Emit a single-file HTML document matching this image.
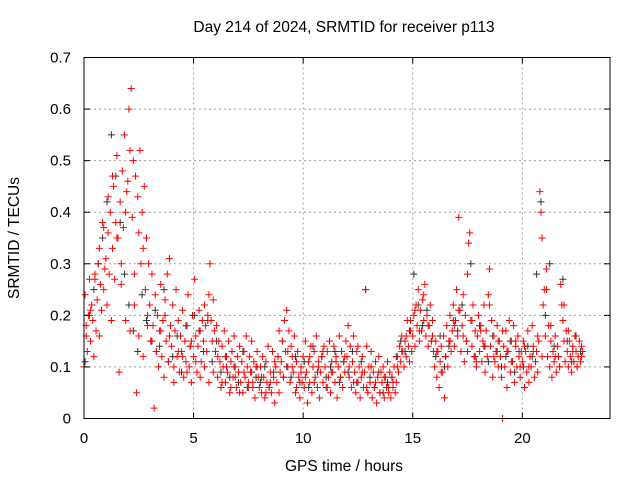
<!DOCTYPE html>
<html><head><meta charset="utf-8"><style>
html,body{margin:0;padding:0;background:#fff}
svg{display:block;font-family:"Liberation Sans",sans-serif}
</style></head><body>
<svg id="chart" width="640" height="480">
<rect width="640" height="480" fill="#fff"/>
<g id="grid"></g>
<g id="black"></g>
<g id="red"></g>
<rect x="84" y="57.5" width="526" height="361" fill="none" stroke="#000" stroke-width="1"/>
<g id="ticks"></g>
<text x="344" y="32" text-anchor="middle" font-size="15.5">Day 214 of 2024, SRMTID for receiver p113</text>
<text x="344" y="471" text-anchor="middle" font-size="15.5">GPS time / hours</text>
<text transform="translate(19,238) rotate(-90)" text-anchor="middle" font-size="15.5">SRMTID / TECUs</text>
</svg>
<script>
const xTicks=[0,5,10,15,20];
const yTicks=[0,0.1,0.2,0.3,0.4,0.5,0.6,0.7];
const yTickLabels=["0","0.1","0.2","0.3","0.4","0.5","0.6","0.7"];
const redStep=0.05;
const redValues=[
.10,.24,.18,.13,.20,.27,.15,.22,.19,.12,.28,.17,.23,.30,.16,.26,.21,.38,.25,.29,
.31,.22,.36,.28,.40,.19,.33,.45,.27,.38,.51,.35,.09,.42,.30,.48,.37,.55,.40,.44,
.46,.60,.52,.64,.39,.50,.28,.47,.05,.43,.36,.52,.30,.40,.33,.45,.25,.35,.20,.30,
.22,.15,.28,.18,.02,.24,.13,.20,.10,.17,.26,.12,.19,.08,.23,.15,.28,.11,.31,.18,
.14,.22,.07,.17,.25,.12,.19,.09,.16,.13,.21,.08,.15,.11,.18,.24,.10,.14,.07,.20,
.12,.27,.16,.09,.14,.21,.17,.11,.19,.15,.22,.18,.13,.20,.24,.30,.19,.15,.23,.17,
.13,.18,.08,.15,.11,.06,.14,.10,.17,.07,.12,.09,.15,.05,.11,.13,.08,.16,.10,.06,
.12,.09,.14,.07,.11,.05,.13,.08,.16,.10,.06,.12,.09,.15,.07,.11,.04,.10,.13,.08,
.06,.10,.05,.12,.08,.04,.11,.07,.14,.06,.09,.05,.13,.08,.03,.10,.07,.12,.05,.09,
.11,.15,.08,.19,.13,.21,.10,.17,.07,.14,.12,.09,.16,.05,.11,.13,.08,.04,.10,.07,
.12,.06,.15,.09,.03,.11,.07,.14,.05,.10,.13,.08,.16,.06,.11,.04,.09,.12,.07,.14,
.10,.06,.13,.08,.15,.05,.11,.09,.14,.07,.12,.04,.10,.16,.08,.13,.06,.11,.09,.15,
.12,.18,.08,.14,.06,.11,.16,.09,.05,.13,.07,.10,.04,.08,.12,.06,.09,.25,.14,.05,
.10,.07,.13,.04,.09,.06,.11,.03,.08,.12,.05,.09,.07,.10,.04,.08,.06,.11,.05,.09,
.04,.08,.06,.10,.05,.07,.12,.09,.14,.11,.16,.13,.10,.15,.12,.19,.14,.11,.17,.13,
.16,.20,.14,.22,.18,.25,.15,.21,.17,.23,.19,.26,.16,.20,.14,.18,.22,.15,.19,.13,
.10,.15,.08,.13,.06,.11,.14,.09,.16,.04,.12,.18,.10,.15,.20,.13,.17,.22,.14,.19,
.25,.16,.39,.21,.13,.18,.24,.11,.20,.15,.28,.34,.36,.19,.14,.22,.12,.17,.10,.16,
.20,.13,.18,.11,.15,.22,.09,.17,.12,.24,.29,.14,.19,.08,.16,.11,.13,.18,.10,.15,
.12,.08,.00,.14,.10,.17,.06,.13,.19,.09,.15,.11,.18,.07,.14,.10,.16,.12,.08,.13,
.11,.15,.06,.13,.09,.17,.07,.12,.10,.18,.14,.08,.11,.13,.09,.15,.44,.40,.35,.22,
.25,.16,.29,.12,.18,.10,.15,.08,.13,.11,.16,.09,.14,.12,.10,.26,.22,.19,.15,.11,
.17,.13,.10,.15,.12,.09,.14,.11,.16,.13,.10,.12,.15,.11,.14,.13
];
const red2Step=0.2;
const red2Values=[
.16,.21,.27,.33,.37,.43,.47,.35,.26,.19,.17,.22,.16,.12,.18,.15,.13,.17,.20,.16,
.10,.13,.12,.09,.15,.11,.08,.10,.07,.09,.12,.07,.10,.06,.08,.05,.09,.07,.06,.10,
.08,.05,.07,.11,.17,.08,.13,.10,.06,.09,.08,.12,.07,.10,.13,.06,.09,.11,.08,.12,
.10,.07,.14,.09,.06,.10,.07,.05,.08,.06,.07,.10,.13,.16,.19,.21,.17,.24,.18,.16,
.13,.09,.12,.15,.18,.21,.16,.13,.19,.11,.17,.14,.22,.12,.15,.17,.13,.11,.15,.10,
.14,.10,.13,.16,.12,.25,.18,.12,.10,.22,.17,.13,.10,.12
];
const blackStep=0.2;
const blackValues=[
.11,.20,.25,.30,.35,.42,.55,.47,.38,.28,.22,.17,.13,.24,.19,.15,.21,.14,.25,.11,
.12,.16,.09,.18,.14,.20,.17,.13,.19,.11,.15,.09,.12,.08,.10,.07,.13,.06,.09,.08,
.07,.10,.06,.09,.12,.15,.10,.08,.12,.07,.11,.06,.14,.09,.12,.08,.10,.13,.07,.11,
.09,.13,.07,.11,.25,.08,.06,.09,.05,.07,.08,.12,.15,.13,.17,.28,.22,.18,.21,.15,
.12,.16,.10,.14,.19,.17,.22,.15,.30,.12,.18,.14,.11,.16,.13,.10,.12,.15,.09,.13,
.10,.14,.12,.28,.42,.20,.30,.14,.12,.27,.15,.11,.16,.13
];
const X0=84,X1=610,Y0=418.5,Y1=57.5,XMAX=24,YMAX=0.7;
function xs(v){return X0+(v/XMAX)*(X1-X0);}
function ys(v){return Y0-(v/YMAX)*(Y0-Y1);}
const NS="http://www.w3.org/2000/svg";
function mk(tag,attrs,parent){const e=document.createElementNS(NS,tag);for(const k in attrs)e.setAttribute(k,attrs[k]);parent.appendChild(e);return e;}
const grid=document.getElementById('grid'),ticks=document.getElementById('ticks');
xTicks.forEach(t=>{
  const x=xs(t);
  if(t>0){const g=mk('line',{x1:x,x2:x,y1:Y1,y2:Y0,stroke:'#a0a0a0','stroke-dasharray':'2,3'},grid);
  
  }
  mk('line',{x1:x,x2:x,y1:Y0,y2:Y0-6,stroke:'#000'},ticks);
  mk('line',{x1:x,x2:x,y1:Y1,y2:Y1+6,stroke:'#000'},ticks);
  const l=mk('text',{x:x,y:443,'text-anchor':'middle','font-size':15},ticks);
  l.textContent=t;
  
  
});
yTicks.forEach((t,i)=>{
  const y=ys(t);
  if(i>0&&i<yTicks.length-1){const g=mk('line',{x1:X0,x2:X1,y1:y,y2:y,stroke:'#a0a0a0','stroke-dasharray':'2,3'},grid);
  
  }
  mk('line',{x1:X0,x2:X0+6,y1:y,y2:y,stroke:'#000'},ticks);
  mk('line',{x1:X1,x2:X1-6,y1:y,y2:y,stroke:'#000'},ticks);
  const l=mk('text',{x:71,y:y+5,'text-anchor':'end','font-size':15},ticks);
  l.textContent=yTickLabels[i];
  
  
});
function plus(parent,x,y,color,name){
  const p=mk('path',{d:`M${x-3.5},${y}H${x+3.5}M${x},${y-3.5}V${y+3.5}`,stroke:color,'stroke-width':1,fill:'none'},parent);
  
  
}
const bg=document.getElementById('black');
blackValues.forEach((v,i)=>plus(bg,xs(i*blackStep+0.05),ys(v),'#333','black-point'));
const rg=document.getElementById('red');
redValues.forEach((v,i)=>plus(rg,xs(i*redStep),ys(v),'#ff0000','red-point'));
red2Values.forEach((v,i)=>plus(rg,xs(i*red2Step+0.1),ys(v),'#ff0000','red-point'));
</script>
</body></html>
